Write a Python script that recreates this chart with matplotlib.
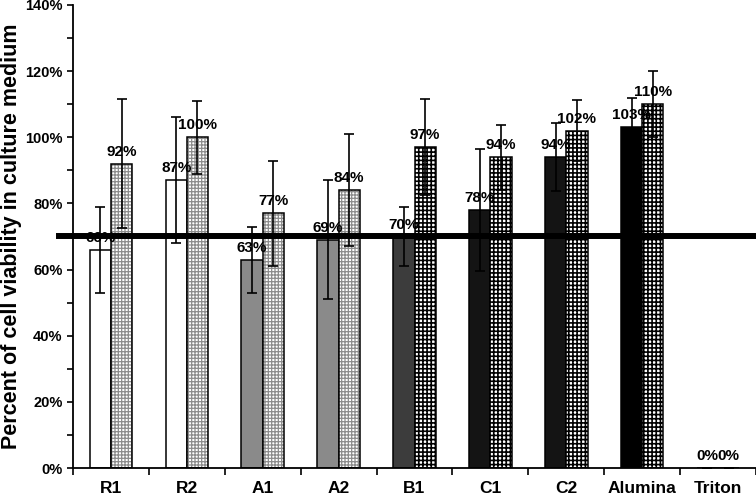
import matplotlib
matplotlib.use("Agg")
import matplotlib.pyplot as plt
import numpy as np
from matplotlib.ticker import MultipleLocator, FixedLocator, NullFormatter

plt.rcParams['font.family'] = ['Liberation Sans', 'DejaVu Sans']
plt.rcParams['font.weight'] = 'bold'

categories = ['R1', 'R2', 'A1', 'A2', 'B1', 'C1', 'C2', 'Alumina', 'Triton']
plain_vals = [66, 87, 63, 69, 70, 78, 94, 103, 0]
plain_err = [13, 19, 10, 18, 9, 18.4, 10.2, 9, 0]
hatched_vals = [92, 100, 77, 84, 97, 94, 102, 110, 0]
hatched_err = [19.5, 11, 15.8, 17, 14.6, 9.8, 9.3, 10, 0]
threshold = 70

plain_colors = ['white', 'white', '#8a8a8a', '#8a8a8a', '#3c3c3c',
                '#141414', '#141414', '#000000', 'white']
hatch_colors = ['#8c8c8c'] * 4 + ['#000000'] * 5

fig = plt.figure(figsize=(7.56, 4.94), dpi=100)
ax = fig.add_axes([73 / 756, 26 / 494, 683 / 756, 463 / 494])

x = np.arange(len(categories)) + 0.5
w = 0.28

# plain bars
ax.bar(x - w / 2, plain_vals, w, color=plain_colors, edgecolor='black',
       linewidth=1.1, zorder=2)

# hatched bars: hatch layer first, black outline on top
for i, (xi, v) in enumerate(zip(x, hatched_vals)):
    lw = 0.9 if i < 4 else 1.2
    pat = '+++++' if i < 4 else '++++'
    with plt.rc_context({'hatch.linewidth': lw}):
        b = ax.bar(xi + w / 2, v, w, color='white', edgecolor=hatch_colors[i],
                   hatch=pat, linewidth=0, zorder=2)
        for p in b:
            if hasattr(p, 'set_hatch_linewidth'):
                p.set_hatch_linewidth(lw)
ax.bar(x + w / 2, hatched_vals, w, fill=False, edgecolor='black',
       linewidth=1.1, zorder=2.1)

# error bars
ax.errorbar(x - w / 2, plain_vals, yerr=plain_err, fmt='none', ecolor='black',
            elinewidth=1.2, capsize=3.5, capthick=1.2, zorder=3)
ax.errorbar(x + w / 2, hatched_vals, yerr=hatched_err, fmt='none', ecolor='black',
            elinewidth=1.2, capsize=3.5, capthick=1.2, zorder=3)

# 70 % threshold line (runs a bit past the y axis)
ax.plot([-0.02, 1.0], [threshold, threshold], color='black', linewidth=4.3,
        transform=ax.get_yaxis_transform(), clip_on=False, zorder=3.5)

# value labels
for xi, v in zip(x - w / 2, plain_vals):
    ax.text(xi, v + 1.5, f'{v}%', ha='center', va='bottom', fontsize=11,
            fontweight='bold', zorder=4)
for xi, v in zip(x + w / 2, hatched_vals):
    ax.text(xi, v + 1.5, f'{v}%', ha='center', va='bottom', fontsize=11,
            fontweight='bold', zorder=4)

ax.set_xlim(0, len(categories))
ax.set_ylim(0, 140)

ax.yaxis.set_major_locator(MultipleLocator(20))
ax.yaxis.set_minor_locator(MultipleLocator(10))
ax.set_yticks(np.arange(0, 141, 20))
ax.set_yticklabels([f'{t}%' for t in range(0, 141, 20)], fontsize=10.5,
                   fontweight='bold')
ax.tick_params(axis='y', which='both', direction='out', length=4, width=1.2)

ax.set_xticks(x)
ax.set_xticklabels(categories, fontsize=12.5, fontweight='bold')
ax.xaxis.set_minor_locator(FixedLocator(np.arange(0, len(categories) + 1)))
ax.xaxis.set_minor_formatter(NullFormatter())
ax.tick_params(axis='x', which='major', length=0, pad=9)
ax.tick_params(axis='x', which='minor', direction='out', length=5, width=1.2)

for s in ['top', 'right']:
    ax.spines[s].set_visible(False)
for s in ['left', 'bottom']:
    ax.spines[s].set_linewidth(1.3)

ax.set_ylabel('Percent of cell viability in culture medium', fontsize=15.5,
              fontweight='bold')
ax.yaxis.set_label_coords(-0.075, 0.5)

fig.savefig('out.png', dpi=100)
